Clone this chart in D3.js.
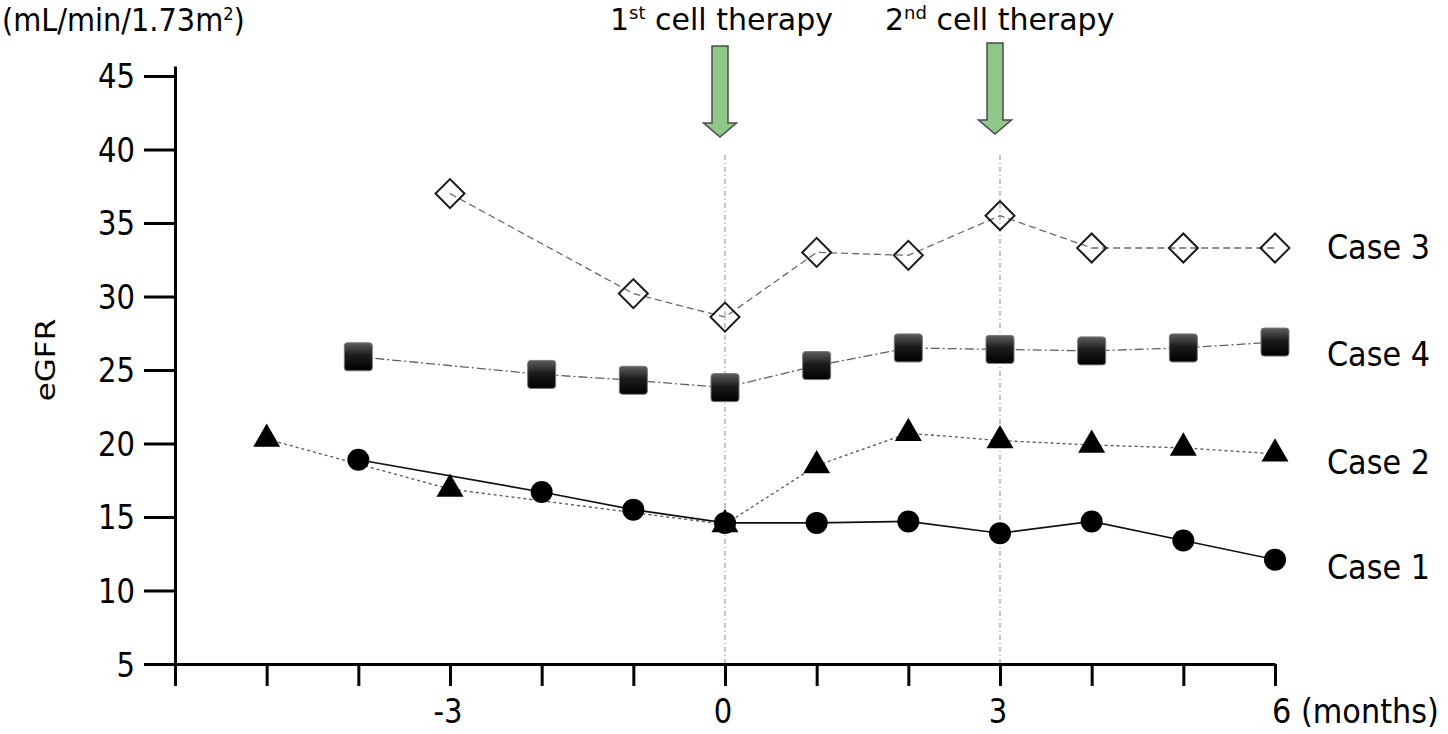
<!DOCTYPE html>
<html>
<head>
<meta charset="utf-8">
<script src="https://cdn.jsdelivr.net/npm/d3@7"></script>
<style>
  html, body { margin: 0; padding: 0; background: #fff; }
  svg { display: block; font-family: "DejaVu Sans", sans-serif; }
</style>
</head>
<body>
<svg id="chart" width="1448" height="734"></svg>
<script>
// ---- data ----
const xTickValues = [-6, -5, -4, -3, -2, -1, 0, 1, 2, 3, 4, 5, 6];
const xLabelValues = [-3, 0, 3, 6];
const xLabelTexts = ["-3", "0", "3", "6 (months)"];
const yTicks = [5, 10, 15, 20, 25, 30, 35, 40, 45];

const case1Months = [-4, -2, -1, 0, 1, 2, 3, 4, 5, 6];
const case1Values = [18.9, 16.7, 15.5, 14.6, 14.6, 14.7, 13.9, 14.7, 13.4, 12.1];

const case2Months = [-5, -3, 0, 1, 2, 3, 4, 5, 6];
const case2Values = [20.3, 16.9, 14.5, 18.5, 20.7, 20.2, 19.9, 19.7, 19.3];

const case3Months = [-3, -1, 0, 1, 2, 3, 4, 5, 6];
const case3Values = [37.0, 30.2, 28.6, 33.0, 32.8, 35.5, 33.3, 33.3, 33.3];

const case4Months = [-4, -2, -1, 0, 1, 2, 3, 4, 5, 6];
const case4Values = [25.9, 24.7, 24.3, 23.8, 25.3, 26.5, 26.4, 26.3, 26.5, 26.9];

const caseLabels = ["Case 3", "Case 4", "Case 2", "Case 1"];
const caseLabelAt = [33.4, 26.1, 18.8, 11.6];

const therapyMonths = [0, 3];
const therapyOrdinals = ["1", "2"];
const therapySuffix = ["st", "nd"];

// ---- chart ----
const svg = d3.select("#chart");
const x = d3.scaleLinear().domain([-6, 6]).range([175, 1275]);
const y = d3.scaleLinear().domain([5, 45.68]).range([664, 66]);

// gradient for squares
const defs = svg.append("defs");
const grad = defs.append("linearGradient").attr("id", "sqGrad")
  .attr("x1", 0).attr("y1", 0).attr("x2", 0).attr("y2", 1);
grad.append("stop").attr("offset", "0%").attr("stop-color", "#5e5e5e");
grad.append("stop").attr("offset", "45%").attr("stop-color", "#1c1c1c");
grad.append("stop").attr("offset", "100%").attr("stop-color", "#000");

// vertical reference lines
svg.append("g").selectAll("line").data(therapyMonths).join("line")
  .attr("x1", d => x(d)).attr("x2", d => x(d))
  .attr("y1", 155).attr("y2", 686)
  .attr("stroke", "#8a8a8a").attr("stroke-width", 1)
  .attr("stroke-dasharray", "5,3,1,3");

// axes
const yAxis = d3.axisLeft(y).tickValues(yTicks).tickSize(31).tickSizeOuter(0).tickFormat("");
const gy = svg.append("g").attr("transform", `translate(${x(-6)},0)`).call(yAxis);
const xAxis = d3.axisBottom(x).tickValues(xTickValues).tickSize(22).tickSizeOuter(0).tickFormat("");
const gx = svg.append("g").attr("transform", `translate(0,${y(5)})`).call(xAxis);
[gy, gx].forEach(g => {
  g.selectAll("path, line").attr("stroke", "#000").attr("stroke-width", 3);
});

// y tick labels
svg.append("g").selectAll("text").data(yTicks).join("text")
  .attr("transform", d => `translate(135,${y(d) + 12.5}) scale(0.88,1)`)
  .attr("text-anchor", "end").attr("font-size", 33).attr("fill", "#000")
  .text(d => d);

// x tick labels
svg.append("g").selectAll("text").data(xLabelValues).join("text")
  .attr("transform", (d, i) => i === xLabelValues.length - 1
    ? `translate(${x(d) - 3},723) scale(0.92,1)`
    : `translate(${x(d) - 2},723) scale(0.88,1)`)
  .attr("text-anchor", (d, i) => i === xLabelValues.length - 1 ? "start" : "middle")
  .attr("font-size", 33).attr("fill", "#000")
  .text((d, i) => xLabelTexts[i]);

// unit label
const unit = svg.append("text")
  .attr("transform", "translate(2,31) scale(0.9,1)")
  .attr("font-size", 32).attr("fill", "#000");
unit.append("tspan").text("(mL/min/1.73m");
unit.append("tspan").attr("font-size", 18).attr("dy", -11).text("2");
unit.append("tspan").attr("dy", 11).text(")");

// eGFR axis title
svg.append("text")
  .attr("transform", `translate(55,${(y(20) + y(30)) / 2 - 10}) rotate(-90) scale(1.15,1)`)
  .attr("text-anchor", "middle").attr("font-size", 27).attr("fill", "#000")
  .text("eGFR");

// therapy titles
const titles = svg.append("g").selectAll("text").data(therapyMonths).join("text")
  .attr("x", d => x(d) - 115)
  .attr("y", 30).attr("font-size", 30).attr("fill", "#000");
titles.append("tspan").text((d, i) => therapyOrdinals[i]);
titles.append("tspan").attr("font-size", 18).attr("dy", -11).text((d, i) => therapySuffix[i]);
titles.append("tspan").attr("dy", 11).text(" cell therapy");

// arrows
svg.append("g").selectAll("path").data(therapyMonths).join("path")
  .attr("d", (d, i) => {
    const cx = x(d) - 5;
    const top = i === 0 ? 46 : 43;
    const tip = i === 0 ? 137 : 134;
    const neck = tip - 14;
    const sw = 8, hw = 16.5;
    return `M${cx - sw},${top} H${cx + sw} V${neck} H${cx + hw} L${cx},${tip} L${cx - hw},${neck} H${cx - sw} Z`;
  })
  .attr("fill", "#8fc68a").attr("stroke", "#4a4a4a").attr("stroke-width", 1.5)
  .attr("stroke-linejoin", "miter");

// series lines
const line = d3.line().x(d => x(d[0])).y(d => y(d[1]));
const zip = (a, b) => a.map((v, i) => [v, b[i]]);
const series = [
  { pts: zip(case3Months, case3Values), stroke: "#6a6a6a", width: 1.3, dash: "7,4" },
  { pts: zip(case4Months, case4Values), stroke: "#606060", width: 1.3, dash: "9,3,2,3" },
  { pts: zip(case2Months, case2Values), stroke: "#555", width: 1.3, dash: "3,3" },
  { pts: zip(case1Months, case1Values), stroke: "#111", width: 1.6, dash: null }
];
svg.append("g").selectAll("path").data(series).join("path")
  .attr("d", d => line(d.pts))
  .attr("fill", "none").attr("stroke", d => d.stroke)
  .attr("stroke-width", d => d.width)
  .attr("stroke-dasharray", d => d.dash);

// markers: case 4 squares
svg.append("g").selectAll("rect").data(zip(case4Months, case4Values)).join("rect")
  .attr("x", d => x(d[0]) - 14).attr("y", d => y(d[1]) - 14)
  .attr("width", 28).attr("height", 28).attr("rx", 3)
  .attr("fill", "url(#sqGrad)").attr("stroke", "#777").attr("stroke-width", 1);

// case 3 open diamonds
const diamond = d3.symbol().type(d3.symbolSquare).size(420);
svg.append("g").selectAll("path").data(zip(case3Months, case3Values)).join("path")
  .attr("d", diamond)
  .attr("transform", d => `translate(${x(d[0])},${y(d[1])}) rotate(45)`)
  .attr("fill", "none").attr("stroke", "#1a1a1a").attr("stroke-width", 2);

// case 2 triangles
const tri = d3.symbol().type(d3.symbolTriangle).size(315);
svg.append("g").selectAll("path").data(zip(case2Months, case2Values)).join("path")
  .attr("d", tri)
  .attr("transform", d => `translate(${x(d[0])},${y(d[1])})`)
  .attr("fill", "#000");

// case 1 circles
svg.append("g").selectAll("circle").data(zip(case1Months, case1Values)).join("circle")
  .attr("cx", d => x(d[0])).attr("cy", d => y(d[1])).attr("r", 11)
  .attr("fill", "#000");

// case labels
svg.append("g").selectAll("text").data(caseLabels).join("text")
  .attr("transform", (d, i) => `translate(1327,${y(caseLabelAt[i]) + 12.5}) scale(0.89,1)`)
  .attr("font-size", 34).attr("fill", "#000")
  .text(d => d);
</script>
</body>
</html>
